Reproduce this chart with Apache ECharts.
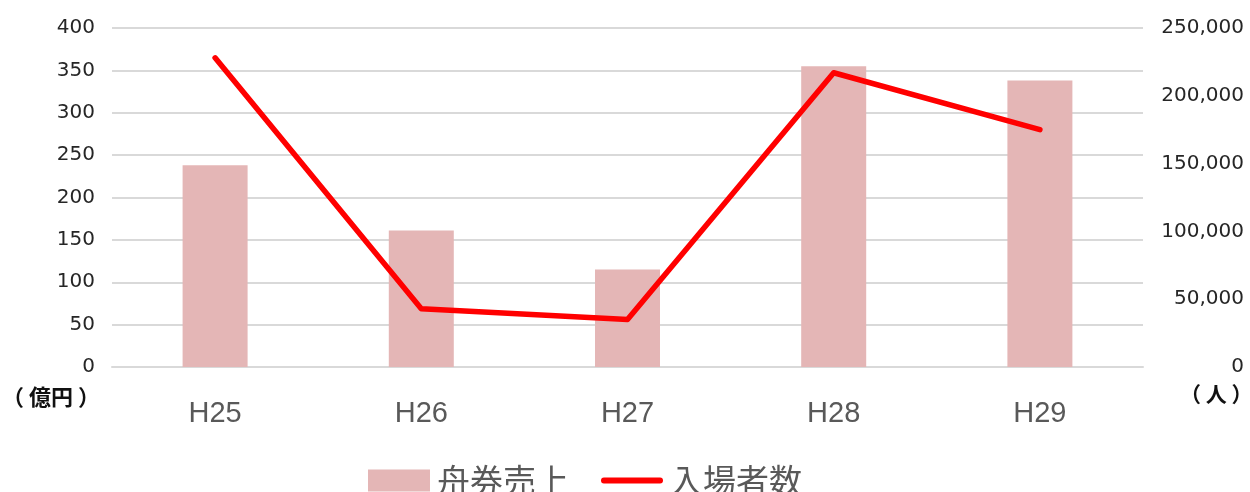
<!DOCTYPE html>
<html>
<head>
<meta charset="utf-8">
<script src="https://cdn.jsdelivr.net/npm/echarts@6/dist/echarts.min.js"></script>
<style>
  html, body { margin: 0; padding: 0; background: #fff; }
  #chart { width: 1250px; height: 492px; }
</style>
</head>
<body>
<div id="chart"></div>
<script>
const categories = ['H25', 'H26', 'H27', 'H28', 'H29'];
const salesValues = [238, 161, 115, 355, 338];          // 舟券売上（億円）
const visitorValues = [228000, 43000, 35000, 217000, 175000]; // 入場者数（人）

const jpFont = '"Noto Sans CJK JP", sans-serif';
const numFont = '"DejaVu Sans", sans-serif';
const catFont = '"Liberation Sans", Arial, sans-serif';

const chart = echarts.init(document.getElementById('chart'));

const option = {
  animation: false,
  grid: {
    left: 112,
    right: 107,
    top: 28,
    bottom: 125,
  },
  legend: {
    left: 363,
    top: 459,
    itemGap: 32,
    itemWidth: 62,
    itemHeight: 22,
    symbolKeepAspect: true,
    textStyle: {
      fontFamily: jpFont,
      fontSize: 33,
      color: '#595959',
      padding: [0, 0, 0, 2],
    },
    data: [
      { name: '舟券売上', icon: 'rect' },
      {
        name: '入場者数',
        icon: 'path://M3,0 H61 A3,3 0 0 1 61,6 H3 A3,3 0 0 1 3,0 Z',
        itemStyle: { color: '#ff0000' },
      },
    ],
  },
  graphic: [
    {
      type: 'text',
      left: 2,
      top: 386,
      style: {
        text: '（ 億円 ）',
        fontFamily: 'Noto Sans CJK JP',
        fontWeight: 'bold',
        fontSize: 22,
        fill: '#111',
      },
    },
    {
      type: 'text',
      left: 1180,
      top: 384,
      style: {
        text: '（ 人 ）',
        fontFamily: 'Noto Sans CJK JP',
        fontWeight: 'bold',
        fontSize: 21,
        fill: '#111',
      },
    },
  ],
  xAxis: {
    type: 'category',
    data: categories,
    axisTick: { show: false },
    axisLine: {
      lineStyle: { color: '#d9d9d9', width: 2 },
    },
    axisLabel: {
      margin: 32,
      fontFamily: catFont,
      fontSize: 29,
      color: '#595959',
    },
  },
  yAxis: [
    {
      type: 'value',
      min: 0,
      max: 400,
      interval: 50,
      axisLine: { show: false },
      axisTick: { show: false },
      axisLabel: {
        margin: 17,
        fontFamily: numFont,
        fontSize: 20,
        color: '#262626',
      },
      splitLine: {
        lineStyle: { color: '#d9d9d9', width: 2 },
      },
    },
    {
      type: 'value',
      min: 0,
      max: 250000,
      interval: 50000,
      axisLine: { show: false },
      axisTick: { show: false },
      splitLine: { show: false },
      axisLabel: {
        margin: 101,
        align: 'right',
        fontFamily: numFont,
        fontSize: 20,
        color: '#262626',
        formatter: (v) => v.toLocaleString('en-US'),
      },
    },
  ],
  series: [
    {
      name: '舟券売上',
      type: 'bar',
      yAxisIndex: 0,
      barWidth: 65,
      itemStyle: { color: '#e4b6b6' },
      data: salesValues,
    },
    {
      name: '入場者数',
      type: 'line',
      yAxisIndex: 1,
      symbol: 'none',
      lineStyle: { color: '#ff0000', width: 5.5, cap: 'round', join: 'round' },
      itemStyle: { color: '#ff0000' },
      data: visitorValues,
    },
  ],
};

chart.setOption(option);
</script>
</body>
</html>
